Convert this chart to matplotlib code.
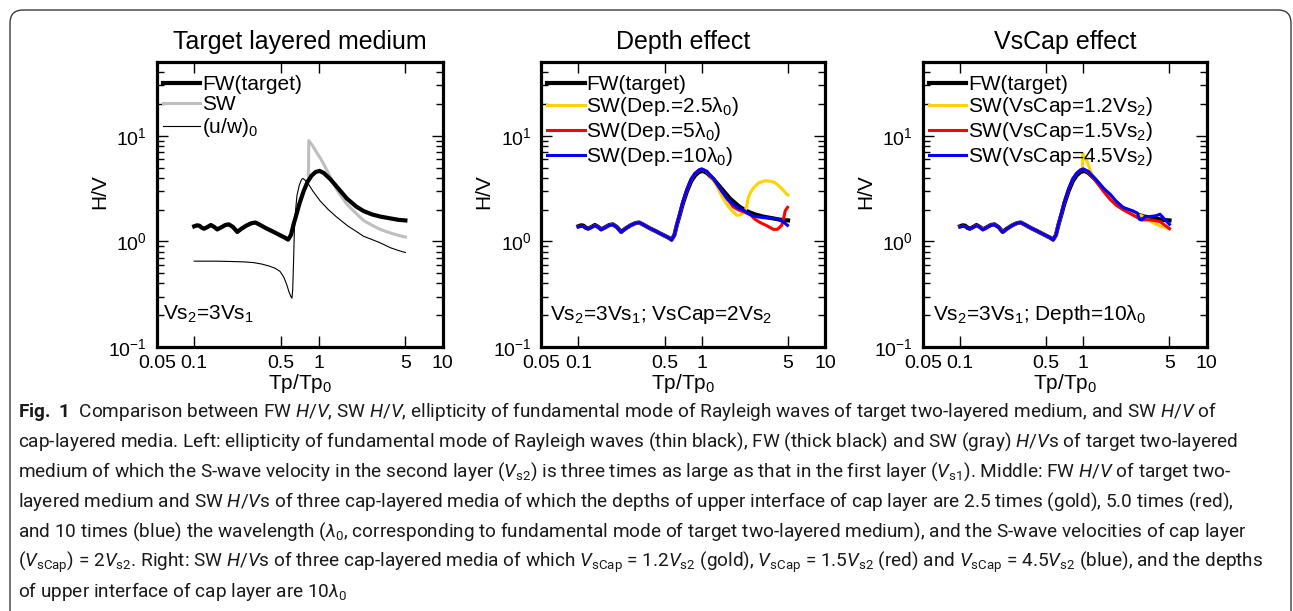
import matplotlib
matplotlib.use('Agg')
import matplotlib.pyplot as plt
from matplotlib.patches import FancyBboxPatch
from matplotlib.transforms import IdentityTransform
from matplotlib.ticker import FixedLocator, FixedFormatter, NullLocator

plt.rcParams['font.family'] = ['Liberation Sans', 'DejaVu Sans']
plt.rcParams['mathtext.fontset'] = 'custom'
plt.rcParams['mathtext.rm'] = 'Liberation Sans'
plt.rcParams['mathtext.it'] = 'Roboto:italic'
plt.rcParams['mathtext.sf'] = 'Roboto'
plt.rcParams['mathtext.bf'] = 'Roboto:bold'

# ---------------- data ----------------
fw_x = [0.100, 0.105, 0.110, 0.115, 0.120, 0.128, 0.136, 0.145, 0.153, 0.165, 0.178,
        0.190, 0.205, 0.222, 0.240, 0.265, 0.290, 0.311, 0.340, 0.380, 0.424, 0.480,
        0.541, 0.569, 0.600, 0.630, 0.660, 0.700, 0.760, 0.820, 0.880, 0.950, 1.020,
        1.100, 1.240, 1.450, 1.690, 2.000, 2.300, 2.700, 3.130, 3.800, 4.400, 5.000]
fw_y = [1.39, 1.42, 1.41, 1.35, 1.32, 1.37, 1.43, 1.37, 1.30, 1.36, 1.43,
        1.45, 1.37, 1.23, 1.32, 1.42, 1.49, 1.51, 1.43, 1.33, 1.25, 1.16,
        1.08, 1.04, 1.15, 1.45, 1.75, 2.25, 3.00, 3.70, 4.20, 4.55, 4.65,
        4.45, 3.90, 3.15, 2.55, 2.15, 1.94, 1.80, 1.72, 1.65, 1.60, 1.58]

sw_x = [0.100, 0.105, 0.110, 0.115, 0.120, 0.128, 0.136, 0.145, 0.153, 0.165, 0.178,
        0.190, 0.205, 0.222, 0.240, 0.265, 0.290, 0.311, 0.340, 0.380, 0.424, 0.480,
        0.541, 0.569, 0.600, 0.630, 0.660, 0.700, 0.760, 0.800, 0.830, 0.835, 0.900,
        0.970, 1.030, 1.120, 1.240, 1.400, 1.690, 2.000, 2.300, 2.700, 3.130, 3.800,
        4.400, 5.000]
sw_y = [1.37, 1.40, 1.39, 1.33, 1.30, 1.35, 1.41, 1.35, 1.28, 1.34, 1.41,
        1.43, 1.35, 1.21, 1.30, 1.40, 1.47, 1.49, 1.41, 1.31, 1.23, 1.14,
        1.06, 1.03, 1.12, 1.45, 1.78, 2.30, 3.10, 3.60, 3.90, 9.00, 8.00,
        6.90, 6.20, 5.20, 4.10, 3.10, 2.25, 1.85, 1.58, 1.42, 1.30, 1.20,
        1.14, 1.10]

ell_x = [0.100, 0.150, 0.200, 0.250, 0.300, 0.350, 0.400, 0.450, 0.490, 0.525, 0.555,
         0.580, 0.600, 0.612, 0.620, 0.630, 0.640, 0.655, 0.670, 0.700, 0.730, 0.750,
         0.780, 0.830, 0.900, 1.030, 1.200, 1.400, 1.720, 2.000, 2.300, 2.700, 3.130,
         3.800, 4.400, 5.000]
ell_y = [0.650, 0.650, 0.645, 0.640, 0.630, 0.610, 0.585, 0.555, 0.520, 0.460, 0.390,
         0.330, 0.300, 0.290, 0.350, 0.650, 1.300, 2.000, 2.700, 3.400, 3.850, 3.950,
         3.800, 3.490, 3.000, 2.420, 2.000, 1.700, 1.400, 1.250, 1.120, 1.040, 0.970,
         0.870, 0.820, 0.785]

low_x = [0.100, 0.105, 0.110, 0.115, 0.120, 0.128, 0.136, 0.145, 0.153, 0.165, 0.178,
         0.190, 0.205, 0.222, 0.240, 0.265, 0.290, 0.311, 0.340, 0.380, 0.424, 0.480,
         0.541, 0.569, 0.600, 0.630, 0.660, 0.700, 0.760, 0.820, 0.880, 0.950, 1.000]
low_y = [1.37, 1.39, 1.38, 1.33, 1.31, 1.36, 1.41, 1.36, 1.29, 1.35, 1.42,
         1.44, 1.36, 1.22, 1.31, 1.42, 1.49, 1.51, 1.43, 1.33, 1.25, 1.16,
         1.08, 1.03, 1.15, 1.47, 1.80, 2.35, 3.15, 3.90, 4.40, 4.75, 4.85]

dep25_x = [1.10, 1.24, 1.32, 1.45, 1.59, 1.75, 1.92, 2.05, 2.24, 2.32, 2.38, 2.50,
           2.62, 2.90, 3.25, 3.60, 3.93, 4.40, 4.88, 5.00]
dep25_y = [4.60, 3.85, 3.36, 2.70, 2.25, 1.95, 1.77, 1.78, 1.94, 2.20, 2.60, 2.95,
           3.20, 3.60, 3.75, 3.72, 3.60, 3.20, 2.80, 2.75]
dep5_x = [1.10, 1.24, 1.45, 1.62, 1.80, 2.00, 2.20, 2.46, 2.70, 2.97, 3.40, 3.80,
          4.10, 4.44, 4.60, 4.75, 4.95]
dep5_y = [4.60, 3.90, 3.00, 2.50, 2.12, 1.98, 1.90, 1.80, 1.62, 1.51, 1.40, 1.30,
          1.30, 1.42, 1.65, 1.95, 2.10]
dep10_x = [1.10, 1.24, 1.45, 1.62, 1.80, 2.00, 2.17, 2.40, 2.62, 2.90, 3.16, 3.60,
           4.05, 4.50, 4.95]
dep10_y = [4.60, 3.95, 3.00, 2.50, 2.25, 2.05, 1.99, 1.82, 1.74, 1.70, 1.68, 1.66,
           1.64, 1.55, 1.42]

cap12_x = [0.985, 0.990, 1.080, 1.170, 1.240, 1.450, 1.650, 1.850, 2.100, 2.540,
           2.970, 3.470, 3.900, 4.190, 5.000]
cap12_y = [4.80, 6.80, 5.60, 4.35, 3.95, 3.10, 2.60, 2.25, 2.00, 1.80,
           1.75, 1.57, 1.45, 1.40, 1.32]
cap15_x = [1.10, 1.24, 1.45, 1.65, 1.85, 2.10, 2.54, 2.97, 3.47, 4.19, 5.00]
cap15_y = [4.50, 3.85, 3.00, 2.50, 2.20, 2.00, 1.77, 1.60, 1.60, 1.54, 1.32]
cap45_x = [1.10, 1.24, 1.45, 1.65, 1.85, 2.10, 2.54, 2.75, 2.85, 2.97, 3.15, 3.47,
           3.90, 4.19, 4.50, 5.00]
cap45_y = [4.60, 3.95, 3.20, 2.80, 2.40, 2.10, 1.94, 1.85, 1.62, 1.60, 1.70, 1.72,
           1.75, 1.81, 1.65, 1.45]

xticks = [0.05, 0.1, 0.5, 1, 5, 10]
xticklabels = ['0.05', '0.1', '0.5', '1', '5', '10']
yticks = [0.1, 1, 10]
yticklabels = [r'$10^{-1}$', r'$10^{0}$', r'$10^{1}$']
ymin_ticks = [m * d for d in (0.1, 1, 10) for m in range(2, 10)]

titles = ['Target layered medium', 'Depth effect', 'VsCap effect']
notes = [r'Vs$_2$=3Vs$_1$', r'Vs$_2$=3Vs$_1$; VsCap=2Vs$_2$', r'Vs$_2$=3Vs$_1$; Depth=10λ$_0$']

GOLD = '#FFD200'
RED = '#FF0000'
BLUE = '#0000FF'
GRAY = '#BEBEBE'

caption = [
    r'$\mathbf{Fig.\ 1}$  Comparison between FW $\mathit{H}$/$\mathit{V}$, SW $\mathit{H}$/$\mathit{V}$, ellipticity of fundamental mode of Rayleigh waves of target two-layered medium, and SW $\mathit{H}$/$\mathit{V}$ of',
    r'cap-layered media. Left: ellipticity of fundamental mode of Rayleigh waves (thin black), FW (thick black) and SW (gray) $\mathit{H}$/$\mathit{V}$s of target two-layered',
    r'medium of which the S-wave velocity in the second layer ($\mathit{V}_{\mathsf{s2}}$) is three times as large as that in the first layer ($\mathit{V}_{\mathsf{s1}}$). Middle: FW $\mathit{H}$/$\mathit{V}$ of target two-',
    r'layered medium and SW $\mathit{H}$/$\mathit{V}$s of three cap-layered media of which the depths of upper interface of cap layer are 2.5 times (gold), 5.0 times (red),',
    r'and 10 times (blue) the wavelength ($\mathit{λ}_{\mathsf{0}}$, corresponding to fundamental mode of target two-layered medium), and the S-wave velocities of cap layer',
    r'($\mathit{V}_{\mathsf{sCap}}$) = 2$\mathit{V}_{\mathsf{s2}}$. Right: SW $\mathit{H}$/$\mathit{V}$s of three cap-layered media of which $\mathit{V}_{\mathsf{sCap}}$ = 1.2$\mathit{V}_{\mathsf{s2}}$ (gold), $\mathit{V}_{\mathsf{sCap}}$ = 1.5$\mathit{V}_{\mathsf{s2}}$ (red) and $\mathit{V}_{\mathsf{sCap}}$ = 4.5$\mathit{V}_{\mathsf{s2}}$ (blue), and the depths',
    r'of upper interface of cap layer are 10$\mathit{λ}_{\mathsf{0}}$',
]

# ---------------- layout ----------------
W, H = 1293, 611
fig = plt.figure(figsize=(W / 100, H / 100), dpi=100)

def px_axes(x0, x1, top, bottom):
    return fig.add_axes([x0 / W, 1 - bottom / H, (x1 - x0) / W, (bottom - top) / H])

ax_specs = [(156.8, 442.8), (541.2, 825.2), (922.9, 1206.6)]
axes = [px_axes(x0, x1, 62, 347) for x0, x1 in ax_specs]

note_x = [0.022, 0.031, 0.036]

for i, ax in enumerate(axes):
    ax.set_xscale('log')
    ax.set_yscale('log')
    ax.set_xlim(0.05, 10)
    ax.set_ylim(0.1, 50)
    ax.xaxis.set_major_locator(FixedLocator(xticks))
    ax.xaxis.set_major_formatter(FixedFormatter(xticklabels))
    ax.xaxis.set_minor_locator(NullLocator())
    ax.yaxis.set_major_locator(FixedLocator(yticks))
    ax.yaxis.set_major_formatter(FixedFormatter(yticklabels))
    ax.yaxis.set_minor_locator(FixedLocator(ymin_ticks))
    ax.tick_params(which='both', direction='in', top=True, right=True, labelsize=14, width=1.0)
    ax.tick_params(which='major', length=8)
    ax.tick_params(which='minor', length=5)
    ax.tick_params(axis='x', pad=6)
    ax.tick_params(axis='y', pad=7)
    for s in ax.spines.values():
        s.set_linewidth(2.3)
    ax.set_title(titles[i], fontsize=18, pad=9)
    ax.set_xlabel(r'Tp/Tp$_0$', fontsize=15, labelpad=0)
    ax.set_ylabel('H/V', fontsize=15)
    ax.yaxis.set_label_coords(-0.168, 0.545)
    ax.text(note_x[i], 0.095, notes[i], transform=ax.transAxes, fontsize=15, va='baseline', ha='left')

# left panel
a = axes[0]
a.plot(sw_x, sw_y, color=GRAY, lw=2.2, label='SW', zorder=2)
a.plot(fw_x, fw_y, color='black', lw=3.0, label='FW(target)', zorder=3)
a.plot(ell_x, ell_y, color='black', lw=0.8, label=r'(u/w)$_0$', zorder=4)
h, l = a.get_legend_handles_labels()
order = [1, 0, 2]
leg_kw = dict(loc='upper left', bbox_to_anchor=(0.022, 0.955), frameon=False, fontsize=15,
              handlelength=1.78, handletextpad=0.08, borderaxespad=0, borderpad=0,
              labelspacing=0.08)
a.legend([h[k] for k in order], [l[k] for k in order], **leg_kw)

# middle panel
a = axes[1]
a.plot(fw_x, fw_y, color='black', lw=3.0, label='FW(target)', zorder=2)
a.plot(low_x + dep25_x, low_y + dep25_y, color=GOLD, lw=2.2, label=r'SW(Dep.=2.5λ$_0$)', zorder=3)
a.plot(low_x + dep5_x, low_y + dep5_y, color=RED, lw=2.2, label=r'SW(Dep.=5λ$_0$)', zorder=4)
a.plot(low_x + dep10_x, low_y + dep10_y, color=BLUE, lw=2.2, label=r'SW(Dep.=10λ$_0$)', zorder=5)
a.legend(**leg_kw)

# right panel
a = axes[2]
a.plot(fw_x, fw_y, color='black', lw=3.0, label='FW(target)', zorder=2)
a.plot(low_x[:-1] + cap12_x, low_y[:-1] + cap12_y, color=GOLD, lw=2.2, label=r'SW(VsCap=1.2Vs$_2$)', zorder=3)
a.plot(low_x + cap15_x, low_y + cap15_y, color=RED, lw=2.2, label=r'SW(VsCap=1.5Vs$_2$)', zorder=4)
a.plot(low_x + cap45_x, low_y + cap45_y, color=BLUE, lw=2.2, label=r'SW(VsCap=4.5Vs$_2$)', zorder=5)
a.legend(**leg_kw)

# rounded border
box = FancyBboxPatch((10, -40), 1281, H - 10 + 40,
                     boxstyle='round,pad=0,rounding_size=13',
                     transform=IdentityTransform(), fill=False,
                     ec='#3a3a3a', lw=1.0)
fig.add_artist(box)

# caption
cap_family = ['Roboto', 'DejaVu Sans']
renderer = fig.canvas.get_renderer()
probe = fig.text(0, 0, caption[1], fontsize=12, family=cap_family)
wpx = probe.get_window_extent(renderer).width
probe.remove()
cap_fs = 12 * 1215.0 / wpx

cap_top = 412
cap_step = 30.0
for k, line in enumerate(caption):
    yb = cap_top + 5 + k * cap_step
    fig.text(18 / W, 1 - yb / H, line, fontsize=cap_fs, family=cap_family,
             ha='left', va='baseline', color='#1a1a1a')

fig.savefig('out.png', dpi=100)
